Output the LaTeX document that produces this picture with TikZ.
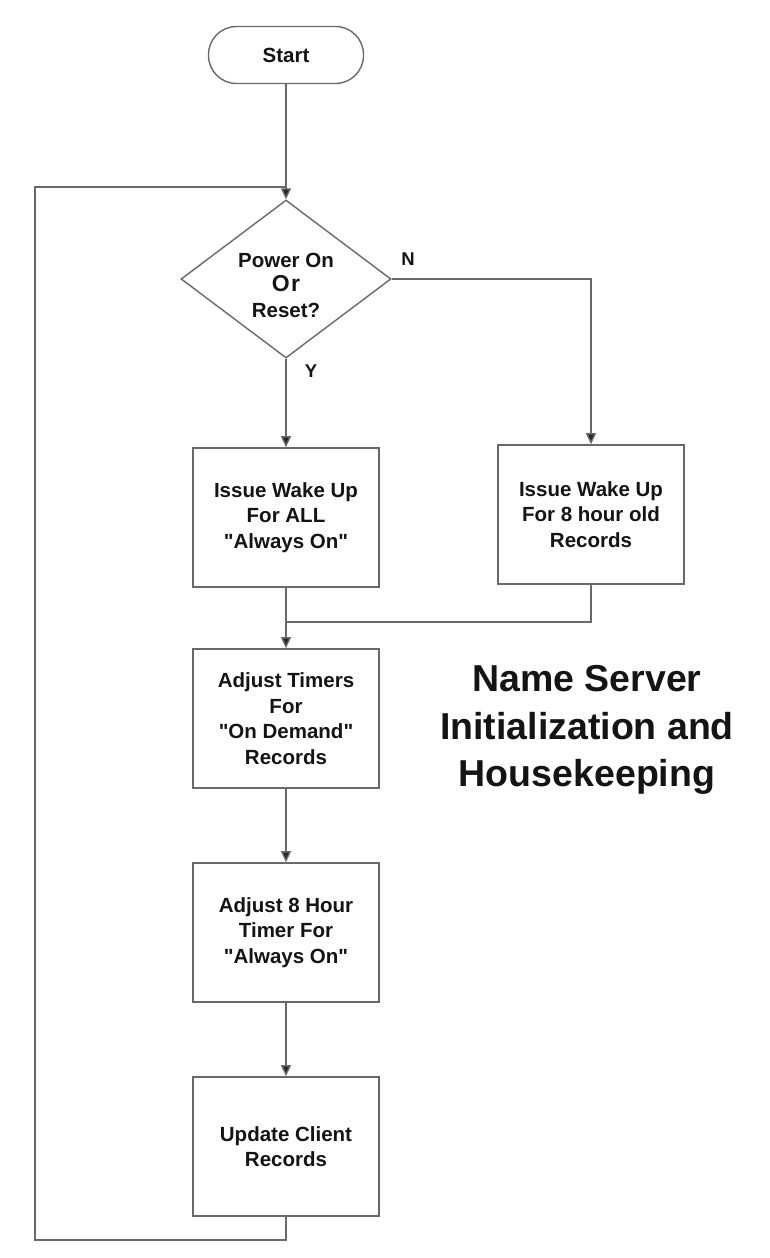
\documentclass[tikz,border=0pt]{standalone}
\usepackage{fontspec}
\setmainfont{Liberation Sans}[Ligatures=TeXOff]
\usetikzlibrary{shapes.geometric,arrows.meta}
\definecolor{ln}{RGB}{105,105,105}
\definecolor{tx}{RGB}{20,20,20}
\begin{document}
\begin{tikzpicture}[x=1pt,y=-1pt,
  every node/.style={text=tx,font=\bfseries\fontsize{20.5}{25.5}\selectfont},
  box/.style={draw=ln,line width=1.6pt,minimum width=186pt,minimum height=139pt,align=center,inner sep=0pt},
  conn/.style={draw=ln,line width=1.4pt},
  arr/.style={conn,-{Triangle[length=11pt,width=10pt,fill=black!85]}},
  lbl/.style={font=\bfseries\fontsize{18.5}{20}\selectfont}]
\useasboundingbox[fill=white] (0,0) rectangle (769,1258);
\node[draw=ln,line width=1.4pt,rounded corners=28pt,minimum width=155pt,minimum height=57pt,inner sep=0pt] (start) at (286,55) {Start};
\node[draw=ln,line width=1.4pt,diamond,minimum width=210pt,minimum height=158pt,inner sep=0pt] (dec) at (286,279) {};
\node[align=center,inner sep=0pt] (dectext) at (286,285)
  {Power On\\[-1pt]{\fontsize{23}{24}\selectfont O\kern1.5pt r}\\Reset?};
\node[box] (b1) at (286,517.5) {Issue Wake Up\\For ALL\\"Always On"};
\node[box] (b2) at (591,514.5) {Issue Wake Up\\For 8 hour old\\Records};
\node[box] (b3) at (286,718.5) {Adjust Timers\\For\\"On Demand"\\Records};
\node[box] (b4) at (286,932.5) {Adjust 8 Hour\\Timer For\\"Always On"};
\node[box] (b5) at (286,1146.5) {Update Client\\Records};
\node[align=center,font=\bfseries\fontsize{37.5}{47.5}\selectfont] (title) at (587,730) {Name Server\\Initialization and\\Housekeeping};
\node[lbl] (nl) at (408,259) {N};
\node[lbl] (yl) at (311,371) {Y};
\coordinate (j1) at (286,187);
\coordinate (j2) at (286,622);
\coordinate (lb) at (35,1240);
\draw[arr] (start.south) -- (dec.north);
\draw[conn] (b5.south) |- (lb) |- (j1);
\draw[arr] (dec.south) -- (b1.north);
\draw[arr] (dec.east) -| (b2.north);
\draw[arr] (b1.south) -- (b3.north);
\draw[conn] (b2.south) |- (j2);
\draw[arr] (b3.south) -- (b4.north);
\draw[arr] (b4.south) -- (b5.north);
\end{tikzpicture}
\end{document}
